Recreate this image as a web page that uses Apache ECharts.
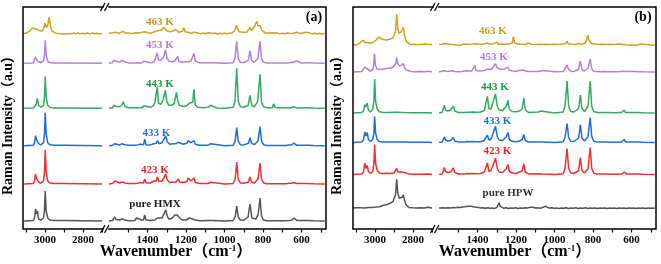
<!DOCTYPE html>
<html><head><meta charset="utf-8">
<script src="https://cdn.jsdelivr.net/npm/echarts@6/dist/echarts.min.js"></script>
<style>html,body{margin:0;padding:0;background:#fff}#c{width:661px;height:264px}</style>
</head><body><div id="c"></div>
<script>
// ---------- DATA (wavenumber cm-1, relative intensity) ----------
const labelsA = ['pure HMX','423 K','433 K','443 K','453 K','463 K'];
const labelsB = ['pure HPW','423 K','433 K','443 K','453 K','463 K'];
const offsetsA = [8,45,83.3,120.7,165.7,195.3];
const offsetsB = [20.7,54.5,86.5,116,157,184];
const highTickLabels = [3000,2800];
const lowTickLabels = [1400,1200,1000,800,600];
const highTicks = [3100,3000,2900,2800,2700];
const lowTicks = [1500,1400,1300,1200,1100,1000,900,800,700,600,500];

// panel (a)
const aHMX_hi = [[3110,0],[3062,0.4],[3055,3],[3050,12],[3045,7],[3040,10],[3034,2],[3022,0.8],[3008,3],[3003,10],[2999,30],[2994,10],[2986,3],[2975,1],[2955,0.4],[2915,0.4],[2908,1.5],[2900,0.4],[2700,0]];
const aHMX_lo = [[1600,0],[1582,0.5],[1575,2],[1570,4],[1564,1.5],[1545,1],[1532,2],[1526,3],[1518,1],[1500,0.3],[1466,0.5],[1458,3],[1451,1],[1444,2],[1439,2.5],[1432,1],[1421,1],[1415,6],[1408,1],[1385,0.5],[1362,1],[1349,3],[1340,1.5],[1325,3],[1313,8],[1306,11],[1298,5],[1290,2],[1275,2.5],[1265,4],[1258,6],[1252,4],[1246,6],[1240,8],[1233,3],[1220,1],[1200,1],[1190,2],[1183,3],[1176,1.5],[1166,2],[1159,3],[1152,1],[1130,0.3],[1080,0.5],[1072,1.2],[1064,0.4],[1000,0],[955,0.5],[945,4],[937,15],[929,4],[918,1],[900,0.8],[878,4],[868,17],[858,3],[850,1.5],[838,2],[826,6],[816,23],[808,5],[798,1],[780,0.3],[748,0.3],[743,1.2],[738,0.3],[700,0.2],[665,0.5],[660,1.5],[652,0.8],[648,1.5],[640,3],[633,1],[625,0.6],[618,1.5],[611,0.5],[582,0.5],[574,2],[566,0.5],[540,0.2],[480,0]];
const a423_hi = [[3110,0],[3062,0.4],[3055,3],[3050,10],[3045,6],[3040,8],[3034,2],[3022,0.8],[3008,3],[3003,12],[2999,34],[2994,12],[2986,3],[2975,1],[2955,0.4],[2915,0.4],[2908,1.5],[2900,0.4],[2700,0]];
const a423_lo = [[1600,0],[1582,0.5],[1575,2],[1570,3],[1563,1],[1545,1],[1533,2],[1526,3],[1518,1],[1500,0.4],[1466,0.5],[1458,2],[1451,0.8],[1444,1.5],[1439,1.5],[1432,0.8],[1421,1],[1415,5],[1408,1],[1385,1],[1368,3],[1361,4],[1355,3],[1349,7],[1341,2.5],[1325,3],[1313,7],[1306,10],[1298,4],[1285,1.5],[1265,2],[1258,3],[1252,2],[1246,3.5],[1240,5],[1233,2],[1215,1.5],[1196,2.5],[1190,6],[1183,8],[1175,3],[1166,4],[1159,6],[1152,1.5],[1130,0.5],[1085,0.5],[1078,1.5],[1072,1.8],[1064,0.5],[1000,0],[955,0.5],[945,5],[937,22],[929,5],[918,1],[900,0.8],[876,2],[868,7],[860,2],[845,1],[826,5],[816,21],[808,5],[798,1],[780,0.3],[748,0.3],[743,2],[738,0.3],[680,0.3],[665,0.7],[660,2.5],[654,0.7],[646,1],[640,1.5],[635,0.6],[625,0.5],[618,1],[611,0.4],[582,0.5],[574,2],[566,0.5],[540,0.2],[480,0]];
const a433_hi = [[3110,0],[3062,0.4],[3055,3],[3050,10],[3045,6],[3040,8],[3034,2],[3022,0.8],[3008,3],[3003,11.5],[2999,33],[2994,11.5],[2986,3],[2975,1],[2955,0.4],[2915,0.4],[2908,1.2],[2900,0.4],[2700,0]];
const a433_lo = [[1600,0],[1582,0.4],[1575,1.5],[1570,2],[1563,0.8],[1545,0.8],[1533,2],[1526,3],[1518,1],[1500,0.4],[1466,0.4],[1458,2],[1451,0.8],[1444,1.2],[1439,1.5],[1432,0.8],[1421,1],[1415,6.5],[1408,1],[1385,0.8],[1368,2],[1361,3],[1355,2.5],[1349,5],[1341,2],[1325,3],[1313,7],[1306,10],[1298,4],[1285,1.5],[1265,2],[1258,3.5],[1252,2],[1246,2.5],[1240,3.5],[1233,1.5],[1215,1.5],[1196,2.5],[1190,5],[1183,7],[1175,3],[1166,3.5],[1159,5],[1152,1.5],[1130,0.5],[1085,0.5],[1078,1.5],[1072,2],[1064,0.5],[1000,0],[955,0.5],[945,4.5],[937,18],[929,4.5],[918,1],[900,0.8],[876,2.5],[868,8],[860,2.5],[845,1],[826,5],[816,19],[808,5],[798,1],[780,0.3],[748,0.3],[743,1.2],[738,0.3],[680,0.3],[665,0.6],[660,2.5],[654,0.6],[646,1],[640,2.5],[635,0.6],[625,0.4],[618,1],[611,0.4],[582,0.5],[574,2],[566,0.5],[540,0.2],[480,0]];
const a443_hi = [[3110,0],[3062,0.4],[3052,2],[3046,4],[3040,10],[3034,3],[3022,1],[3008,3],[3003,11],[2999,32],[2994,11],[2986,3],[2975,1],[2955,0.4],[2915,0.4],[2908,1.2],[2900,0.4],[2700,0]];
const a443_lo = [[1600,0],[1582,0.6],[1576,3],[1571,5],[1565,2],[1545,1.5],[1533,3.5],[1526,6.5],[1518,2],[1500,0.5],[1466,0.5],[1458,1.5],[1451,0.5],[1444,1],[1432,0.5],[1424,0.8],[1419,2.5],[1413,0.8],[1385,1],[1370,2.5],[1362,6],[1356,5],[1350,21],[1343,5],[1330,4],[1318,9],[1308,18],[1300,7],[1290,3],[1275,3],[1262,5],[1250,16],[1244,8],[1236,3],[1220,2],[1200,2],[1190,4],[1183,5],[1176,3],[1166,6],[1159,19],[1152,3],[1140,1],[1110,0.5],[1085,1],[1072,3],[1062,1],[1040,0.3],[1000,0],[955,1],[946,7],[937,40],[929,7],[918,1.5],[900,1],[878,3],[868,13],[859,3],[845,1.5],[828,7],[816,34],[808,6],[798,1.5],[780,0.5],[752,0.5],[745,4.5],[738,0.8],[700,0.3],[665,0.5],[660,1],[654,0.5],[646,0.8],[640,1.5],[633,0.5],[625,0.4],[618,1],[611,0.4],[582,0.5],[574,2],[566,0.5],[540,0.2],[480,0]];
const a453_hi = [[3110,0],[3062,0.4],[3055,2],[3050,6.5],[3045,4],[3040,6],[3034,1.5],[3022,0.6],[3008,2.5],[3003,8],[2999,23],[2994,8],[2986,2],[2975,0.8],[2955,0.3],[2915,0.3],[2908,1],[2900,0.3],[2700,0]];
const a453_lo = [[1600,0],[1582,0.6],[1576,3],[1572,5],[1565,2],[1545,1.2],[1533,3],[1526,5],[1518,1.5],[1500,0.4],[1466,0.4],[1458,1.5],[1451,0.5],[1432,0.4],[1424,0.6],[1419,2],[1413,0.6],[1385,0.6],[1365,1.5],[1357,3],[1350,10.5],[1343,3],[1330,3],[1315,7],[1307,13.5],[1299,5],[1288,2],[1270,1.5],[1258,2.5],[1250,4],[1244,7],[1237,2],[1220,1],[1190,1.5],[1175,2],[1166,4],[1159,10],[1152,2],[1130,0.5],[1080,0.6],[1072,2],[1064,0.6],[1000,0],[955,0.6],[946,5],[937,22],[929,5],[918,1],[900,0.8],[877,3],[868,12.5],[860,3],[845,1],[827,5],[816,22],[808,5],[798,1],[780,0.3],[748,0.3],[743,2],[738,0.3],[680,0.3],[665,0.5],[640,1],[628,2.5],[620,0.6],[600,0.3],[582,0.5],[574,2],[566,0.5],[540,0.2],[480,0]];
const a463_hi = [[3115,0.5],[3108,2],[3100,0.5],[3090,1.5],[3078,3],[3070,5.5],[3062,3.5],[3050,5],[3042,3],[3035,3.5],[3025,1.5],[3015,2.5],[3008,5],[3000,10.5],[2993,6],[2985,9],[2978,16.5],[2972,8],[2965,3],[2955,1.5],[2945,0.5],[2935,1.2],[2925,0.2],[2915,0.9],[2905,-0.2],[2895,0.7],[2885,0],[2875,0.8],[2862,-0.1],[2850,0.6],[2838,0],[2826,0.7],[2815,-0.2],[2802,0.5],[2790,0],[2778,0.7],[2765,-0.2],[2752,0.6],[2740,0],[2728,0.5],[2715,-0.2],[2700,0.3]];
const a463_lo = [[1600,0.4],[1590,-0.3],[1580,1],[1572,3],[1565,1.5],[1552,0.5],[1540,1.2],[1526,2.5],[1515,0.6],[1505,-0.2],[1495,0.7],[1483,0],[1472,0.6],[1460,1],[1452,0.2],[1440,0.8],[1430,0.3],[1419,2],[1410,0.5],[1398,1],[1385,0.5],[1375,1.5],[1365,2],[1357,3.5],[1350,3],[1340,2],[1330,3.5],[1322,5],[1315,6.5],[1308,4.5],[1300,3],[1292,4],[1283,2],[1272,2.5],[1262,3],[1255,4],[1248,3],[1238,1.5],[1228,1],[1218,2.5],[1212,6],[1205,2],[1195,0.8],[1185,1.2],[1172,0.3],[1160,1.5],[1150,0.2],[1138,0.8],[1125,-0.2],[1112,0.6],[1100,0],[1088,0.8],[1075,1],[1062,0.1],[1050,0.7],[1038,-0.3],[1025,0.5],[1012,-0.1],[1000,0.6],[988,0],[975,0.5],[962,0.8],[950,2.5],[944,5],[939,8.5],[933,5],[925,2],[915,0.8],[905,1.5],[895,0.8],[885,1.5],[875,3],[868,6],[860,3],[852,4],[845,7],[838,9],[833,12.5],[827,8],[820,7.5],[815,8],[808,4],[800,2],[790,0.8],[780,0.3],[770,0.8],[760,0.2],[748,1],[738,0.3],[725,0.6],[712,-0.2],[700,0.5],[688,0],[676,0.6],[665,0.2],[655,0.9],[645,0.5],[635,1.2],[626,1.5],[618,0.6],[608,0.3],[596,0.8],[586,0.6],[577,1.5],[568,0.3],[556,0.6],[545,-0.2],[533,0.5],[520,-0.2],[508,0.4],[495,-0.2],[480,0.3]];

// panel (b)
const bHPW_hi = [[3115,0.3],[3105,-0.3],[3095,0.5],[3085,0],[3075,0.6],[3065,-0.2],[3055,0.4],[3045,0],[3035,0.7],[3025,0.2],[3015,0.9],[3005,0.4],[2995,1.2],[2985,0.8],[2975,1.6],[2965,1.3],[2956,3],[2948,2.5],[2940,3.5],[2930,4],[2921,5],[2912,5.5],[2905,7],[2898,9],[2892,14],[2886,29],[2880,15],[2872,10],[2866,9.5],[2858,11],[2851,13.5],[2845,8],[2838,4],[2830,2],[2822,0.8],[2812,0.2],[2800,0.5],[2790,-0.2],[2780,0.4],[2770,-0.1],[2760,0.5],[2750,0],[2740,0.4],[2730,0.2],[2720,1],[2711,1.5],[2704,0.4],[2700,0.3]];
const bHPW_lo = [[1600,0.3],[1590,0],[1578,0.5],[1565,0.2],[1552,0.6],[1540,0.3],[1528,0.8],[1515,0.5],[1502,1],[1490,0.8],[1478,1.3],[1466,1.5],[1456,2.5],[1448,2],[1440,2.8],[1432,2],[1424,1.5],[1415,1.2],[1405,0.6],[1395,0.8],[1383,0.2],[1372,0.6],[1360,0.1],[1348,0.5],[1336,0],[1324,0.4],[1312,-0.1],[1300,0.8],[1293,2],[1288,5.5],[1283,2],[1276,0.5],[1265,0.1],[1252,0.5],[1240,-0.1],[1228,0.4],[1215,0],[1202,0.5],[1190,-0.1],[1178,0.4],[1165,0],[1152,0.5],[1140,0.3],[1128,1],[1120,3],[1113,1],[1100,0.3],[1088,0.6],[1075,0.1],[1062,0.8],[1055,2.5],[1048,2],[1040,0.5],[1028,0.2],[1015,0.5],[1002,0],[990,0.4],[978,-0.1],[965,0.4],[952,0],[940,0.5],[928,-0.1],[915,0.4],[902,0],[890,0.5],[878,-0.1],[865,0.4],[852,0],[840,0.5],[828,-0.1],[815,0.4],[802,0],[790,0.4],[778,-0.1],[765,0.4],[752,0],[740,0.4],[728,-0.1],[715,0.4],[702,0],[690,0.4],[678,-0.1],[665,0.4],[652,0],[640,0.4],[628,-0.1],[615,0.4],[602,0],[590,0.4],[578,-0.1],[565,0.4],[552,0],[540,0.4],[528,-0.1],[515,0.4],[502,0],[490,0.3],[480,0]];
const b423_hi = [[3115,0],[3070,0.4],[3060,3],[3054,11.5],[3048,6],[3041,9],[3035,3],[3024,1],[3012,3],[3006,11],[3002,30],[2997,11],[2989,4],[2978,1.5],[2960,1],[2940,1.2],[2920,1],[2900,1.5],[2892,2.5],[2886,6],[2880,2.5],[2870,2],[2858,2.5],[2851,4],[2845,2],[2835,1],[2820,0.4],[2800,0.2],[2760,0.2],[2720,0.4],[2700,0]];
const b423_lo = [[1600,0],[1584,0.6],[1578,3.5],[1573,7],[1567,3],[1555,2],[1540,2.5],[1532,4.5],[1526,6.5],[1518,2],[1500,0.5],[1468,0.5],[1460,2],[1453,1],[1440,0.8],[1426,1],[1419,3],[1412,0.8],[1385,1],[1365,2.5],[1356,4],[1349,11.5],[1341,3],[1330,4],[1318,10],[1307,16.5],[1298,6],[1288,2.5],[1270,2],[1260,4],[1250,6],[1242,10],[1235,3],[1220,1.5],[1200,1],[1190,2],[1183,2.5],[1176,1.5],[1168,3.5],[1160,10.5],[1152,2.5],[1135,0.6],[1080,0.8],[1072,2],[1064,0.6],[1000,0],[955,0.8],[946,6],[935,26],[927,6],[916,1.5],[900,1],[875,4],[866,17],[858,4],[845,1.5],[826,6],[815,27],[807,6],[797,1.5],[780,0.4],[748,0.4],[743,2],[738,0.4],[680,0.3],[665,0.6],[660,1],[652,0.5],[645,0.8],[638,2.5],[632,0.6],[625,0.4],[611,0.4],[582,0.5],[574,2],[566,0.5],[540,0.2],[480,0]];
const b433_hi = [[3115,0],[3070,0.4],[3060,3],[3054,10.5],[3048,6.5],[3041,10],[3035,3],[3024,1],[3012,3],[3006,9.5],[3002,26],[2997,9.5],[2989,3],[2978,1],[2955,0.5],[2930,0.4],[2892,0.6],[2886,1.2],[2880,0.5],[2850,0.4],[2800,0.2],[2760,0.2],[2720,0.3],[2700,0]];
const b433_lo = [[1600,0],[1584,0.5],[1578,3],[1573,5.6],[1567,2.5],[1555,1.5],[1540,2],[1532,3.5],[1526,5],[1518,1.5],[1500,0.4],[1468,0.5],[1460,2.5],[1453,1],[1440,0.8],[1426,1],[1419,2.5],[1412,0.8],[1385,0.8],[1365,2],[1356,3],[1349,7.3],[1341,2.5],[1330,3.5],[1318,10],[1307,16.3],[1298,6],[1288,2.5],[1270,2],[1260,4],[1250,6],[1242,10],[1235,3],[1220,1.2],[1200,0.8],[1183,1.5],[1168,3],[1160,8],[1152,2],[1135,0.5],[1080,0.6],[1072,1.2],[1064,0.5],[1000,0],[955,0.8],[946,5],[935,19],[927,5],[916,1.2],[900,1],[875,4.5],[866,18],[858,4.5],[845,1.5],[826,6],[815,25],[807,6],[797,1.5],[780,0.4],[748,0.4],[743,1.2],[738,0.4],[680,0.3],[665,0.6],[660,1.2],[652,0.5],[645,0.8],[638,3.3],[632,0.6],[625,0.4],[611,0.4],[582,0.5],[574,2],[566,0.5],[540,0.2],[480,0]];
const b443_hi = [[3115,0],[3070,0.4],[3060,2.5],[3054,8.3],[3048,6],[3041,10],[3035,3],[3024,1],[3012,3.5],[3006,12],[3002,34],[2997,12],[2989,4],[2978,1.2],[2955,0.6],[2930,0.5],[2892,0.8],[2886,1.8],[2880,0.8],[2858,0.5],[2851,1],[2845,0.4],[2800,0.2],[2760,0.3],[2720,0.2],[2700,0]];
const b443_lo = [[1600,0],[1584,0.8],[1578,4],[1573,7.7],[1567,3],[1555,2],[1540,3],[1532,5],[1526,7],[1518,2],[1500,0.5],[1468,0.5],[1460,2],[1453,0.8],[1440,0.8],[1426,1],[1419,3],[1412,0.8],[1385,1],[1365,2.5],[1356,4],[1349,16.7],[1341,4],[1330,4],[1318,12],[1307,19],[1298,7],[1288,3],[1270,2.5],[1260,4.5],[1250,7],[1242,12.7],[1235,3.5],[1220,1.5],[1200,1.2],[1190,1.8],[1183,2],[1176,1.5],[1168,4],[1160,15],[1152,3],[1135,0.6],[1085,1],[1072,2],[1062,0.6],[1000,0],[955,1],[946,7],[935,32],[927,7],[916,1.5],[900,1],[875,4.5],[866,18],[858,4.5],[845,1.5],[826,7],[815,32],[807,7],[797,1.5],[780,0.5],[752,0.5],[745,2.5],[738,0.5],[680,0.3],[665,0.6],[660,1.2],[652,0.5],[645,0.8],[638,3],[632,0.6],[625,0.4],[611,0.4],[582,0.5],[574,2],[566,0.5],[540,0.2],[480,0]];
const b453_hi = [[3115,0],[3090,0.3],[3070,0.5],[3060,2],[3054,5],[3048,3],[3041,3],[3035,1.5],[3024,1],[3012,2.5],[3007,7],[3003,18.4],[2998,7],[2990,3],[2980,2.5],[2968,2.6],[2956,3],[2940,3.5],[2921,4],[2905,4.8],[2895,6.5],[2890,9],[2886,14.4],[2880,8],[2868,6],[2858,6.5],[2851,8.4],[2845,4.5],[2835,2],[2825,1],[2810,0.5],[2790,0.2],[2760,0.4],[2740,0.2],[2720,0.8],[2700,0.2]];
const b453_lo = [[1600,0],[1590,0.3],[1578,1.2],[1573,2],[1566,1],[1555,0.6],[1532,1.2],[1526,1.5],[1518,0.6],[1500,0.3],[1480,0.5],[1462,1.2],[1455,2],[1448,1],[1430,1],[1420,2],[1414,6.7],[1408,1.5],[1395,1],[1380,1.2],[1365,1.5],[1355,2],[1347,3],[1340,2],[1330,2.5],[1318,5],[1307,8.4],[1298,4],[1288,2.5],[1276,2.5],[1266,4],[1258,3],[1250,3.5],[1244,5],[1236,2],[1220,1],[1200,0.8],[1185,1.5],[1175,1],[1168,2],[1160,1],[1140,0.5],[1125,0.6],[1118,1.5],[1110,0.5],[1085,0.4],[1075,0.6],[1060,1.5],[1053,0.5],[1000,0.2],[955,0.5],[946,2.5],[935,7],[927,2.5],[915,0.8],[900,0.6],[877,2.5],[866,11],[858,2.5],[845,1],[826,3.5],[815,13],[807,3],[797,0.8],[780,0.4],[760,0.3],[745,0.6],[720,0.2],[680,0.3],[660,0.5],[645,0.8],[638,1.5],[630,0.5],[610,0.4],[600,0.3],[580,0.5],[574,1],[566,0.3],[540,0.2],[480,0]];
const b463_hi = [[3115,0.4],[3108,1],[3100,-0.2],[3090,0.8],[3080,1.8],[3070,3],[3062,5],[3055,2.5],[3048,1.5],[3040,2.5],[3032,1.2],[3026,2],[3018,1.5],[3010,2.5],[3002,3.5],[2994,5],[2986,6],[2980,8],[2974,10],[2968,6],[2962,5],[2955,5.5],[2947,4.5],[2939,5],[2930,5.5],[2920,6],[2912,6.5],[2905,7],[2898,9],[2892,14],[2886,31],[2880,16],[2874,12],[2868,11.5],[2862,13],[2856,15],[2851,17.7],[2845,10],[2838,5],[2830,2.5],[2822,1],[2812,0.3],[2800,0.8],[2790,-0.2],[2780,0.5],[2770,-0.3],[2760,0.6],[2750,0],[2740,0.9],[2730,-0.2],[2720,0.6],[2710,0],[2700,0.5]];
const b463_lo = [[1600,0.4],[1592,-0.4],[1584,0.8],[1576,-0.2],[1568,1.5],[1560,0.2],[1550,0.8],[1540,-0.3],[1530,0.6],[1520,1.2],[1510,0],[1500,0.8],[1490,-0.3],[1480,0.5],[1470,1],[1460,0.1],[1450,0.7],[1440,-0.2],[1430,0.9],[1420,0.3],[1410,1.2],[1400,0.2],[1390,0.8],[1380,-0.2],[1370,1],[1362,0.4],[1353,2],[1345,0.5],[1335,1],[1325,0.3],[1315,1.2],[1308,0.6],[1301,3],[1294,0.8],[1285,0.2],[1275,1],[1265,0],[1255,0.8],[1245,0.3],[1235,1],[1226,0.8],[1220,2],[1214,8.3],[1208,2],[1200,0.5],[1190,1],[1180,0],[1170,0.8],[1160,-0.2],[1150,0.6],[1142,0.4],[1137,2],[1131,0.3],[1120,0.7],[1110,-0.2],[1100,0.6],[1090,0],[1080,0.8],[1070,-0.2],[1060,0.6],[1050,0],[1040,0.8],[1030,-0.1],[1020,0.5],[1010,0],[1000,0.7],[990,-0.2],[980,0.5],[970,0],[960,0.9],[950,0.4],[942,1.5],[935,4],[928,1.2],[920,0.3],[910,0.8],[900,0],[890,0.6],[880,0.8],[872,1.5],[866,2],[858,0.8],[848,1.2],[840,2],[834,5],[828,10],[822,5],[815,3],[808,1.5],[800,0.5],[790,1],[780,-0.2],[770,0.6],[760,0],[750,0.8],[740,-0.3],[730,0.5],[720,0],[710,0.7],[700,-0.2],[690,0.6],[680,0],[670,0.9],[660,0.2],[650,0.8],[640,1.2],[632,0.3],[622,0.8],[612,-0.2],[602,0.5],[592,0],[582,0.7],[572,-0.2],[562,0.5],[552,1],[542,0],[532,0.6],[522,-0.3],[512,0.5],[502,0.8],[492,-0.2],[480,0.4]];

const specA = [[aHMX_hi,aHMX_lo],[a423_hi,a423_lo],[a433_hi,a433_lo],[a443_hi,a443_lo],[a453_hi,a453_lo],[a463_hi,a463_lo]];
const specB = [[bHPW_hi,bHPW_lo],[b423_hi,b423_lo],[b433_hi,b433_lo],[b443_hi,b443_lo],[b453_hi,b453_lo],[b463_hi,b463_lo]];

// ---------- STYLE / LAYOUT ----------
const lineColors = ['#545454','#F03030','#1F6ED8','#33AA5F','#B47FE3','#D1A31F'];
const textColorsA = ['#1a1a1a','#E8262A','#2A6FCF','#249548','#B07CE0','#C99A22'];
const textColorsB = ['#333333','#E8262A','#2A6FCF','#249548','#B07CE0','#C99A22'];
const serif = '"Liberation Serif","Times New Roman",serif';
const cjkSerif = '"Liberation Serif","Noto Sans CJK SC",serif';

const panels = [
  {x0:23, split:106, x1:326, spec:specA, offs:offsetsA, labels:labelsA, tcol:textColorsA,
   labelPos:[[155,204],[155,170],[156.5,133],[160,84],[160,45],[160,22]], tag:'(a)', tagX:314, nameX:176, yNameX:8},
  {x0:353, split:436, x1:656, spec:specB, offs:offsetsB, labels:labelsB, tcol:textColorsB,
   labelPos:[[508,193.5],[497.5,151],[497.5,121],[495,87],[494,57],[493,31.5]], tag:'(b)', tagX:643, nameX:515, yNameX:337}
];
const TOP = 7, H = 222;

const grid = [], xAxis = [], yAxis = [], series = [], graphic = [];
panels.forEach((p, pi) => {
  const gl = pi*2, gr = pi*2+1;
  grid.push({left:p.x0, top:TOP, width:p.split-p.x0, height:H, show:false});
  grid.push({left:p.split, top:TOP, width:p.x1-p.split, height:H, show:false});
  const common = {
    type:'value', inverse:true, splitLine:{show:false}, axisLine:{show:false},
    axisTick:{show:true, length:3.5, lineStyle:{color:'#000', width:1.2}},
    axisLabel:{fontFamily:serif, fontWeight:'bold', fontSize:11, color:'#000', margin:6,
               formatter:v => String(v)}
  };
  xAxis.push(Object.assign({}, common, {gridIndex:gl, min:3116-(p.split-p.x0)/0.19, max:3116,
    axisTick:Object.assign({}, common.axisTick, {customValues:highTicks}),
    axisLabel:Object.assign({}, common.axisLabel, {customValues:highTickLabels})}));
  xAxis.push(Object.assign({}, common, {gridIndex:gr, min:1616-(p.x1-p.split)/0.1925, max:1616,
    axisTick:Object.assign({}, common.axisTick, {customValues:lowTicks}),
    axisLabel:Object.assign({}, common.axisLabel, {customValues:lowTickLabels})}));
  yAxis.push({type:'value', gridIndex:gl, min:0, max:H, show:false});
  yAxis.push({type:'value', gridIndex:gr, min:0, max:H, show:false});
  p.spec.forEach((s, si) => {
    [0,1].forEach(k => {
      series.push({
        type:'line', xAxisIndex:k===0?gl:gr, yAxisIndex:k===0?gl:gr,
        data:s[k].map(d => [d[0], d[1] + p.offs[si]]),
        symbol:'none', silent:true, animation:false, z:2+si,
        lineStyle:{color:lineColors[si], width:1.5}
      });
    });
    graphic.push({type:'text', silent:true, z:50, style:{
      text:p.labels[si], x:p.labelPos[si][0], y:p.labelPos[si][1],
      fill:p.tcol[si], font:'bold 11px ' + serif, align:'center', verticalAlign:'middle'}});
  });
  // frame
  graphic.push({type:'rect', silent:true, z:100, shape:{x:p.x0, y:TOP, width:p.x1-p.x0, height:H},
    style:{fill:'none', stroke:'#000', lineWidth:1.5}});
  // axis break marks
  [TOP, TOP+H].forEach(yy => {
    graphic.push({type:'rect', silent:true, z:101, shape:{x:p.split-2.2, y:yy-3, width:4.4, height:6},
      style:{fill:'#fff'}});
    graphic.push({type:'line', silent:true, z:102, shape:{x1:p.split-5.5, y1:yy+4, x2:p.split-1, y2:yy-4},
      style:{stroke:'#000', lineWidth:1.2}});
    graphic.push({type:'line', silent:true, z:102, shape:{x1:p.split-1.5, y1:yy+4, x2:p.split+3, y2:yy-4},
      style:{stroke:'#000', lineWidth:1.2}});
  });
  // panel tag
  graphic.push({type:'text', silent:true, z:60, style:{text:p.tag, x:p.tagX, y:17,
    fill:'#000', font:'bold 14px ' + serif, align:'center', verticalAlign:'middle'}});
  // x axis name
  graphic.push({type:'text', silent:true, z:60, style:{
    text:'{a|Wavenumber（cm}{s|-1}{a|）}', x:p.nameX, y:252, align:'center', verticalAlign:'middle',
    rich:{a:{fontFamily:cjkSerif, fontWeight:'bold', fontSize:16, fill:'#000'},
          s:{fontFamily:serif, fontWeight:'bold', fontSize:9, fill:'#000', verticalAlign:'top'}}}});
  // y axis name
  graphic.push({type:'text', silent:true, z:60, x:p.yNameX, y:122, rotation:Math.PI/2, style:{
    text:'Raman Intensity（a.u）', x:0, y:0, align:'center', verticalAlign:'middle',
    fill:'#000', font:'bold 14px ' + cjkSerif}});
});

const chart = echarts.init(document.getElementById('c'), null, {renderer:'canvas'});
chart.setOption({animation:false, grid, xAxis, yAxis, series, graphic});
</script>
</body></html>
